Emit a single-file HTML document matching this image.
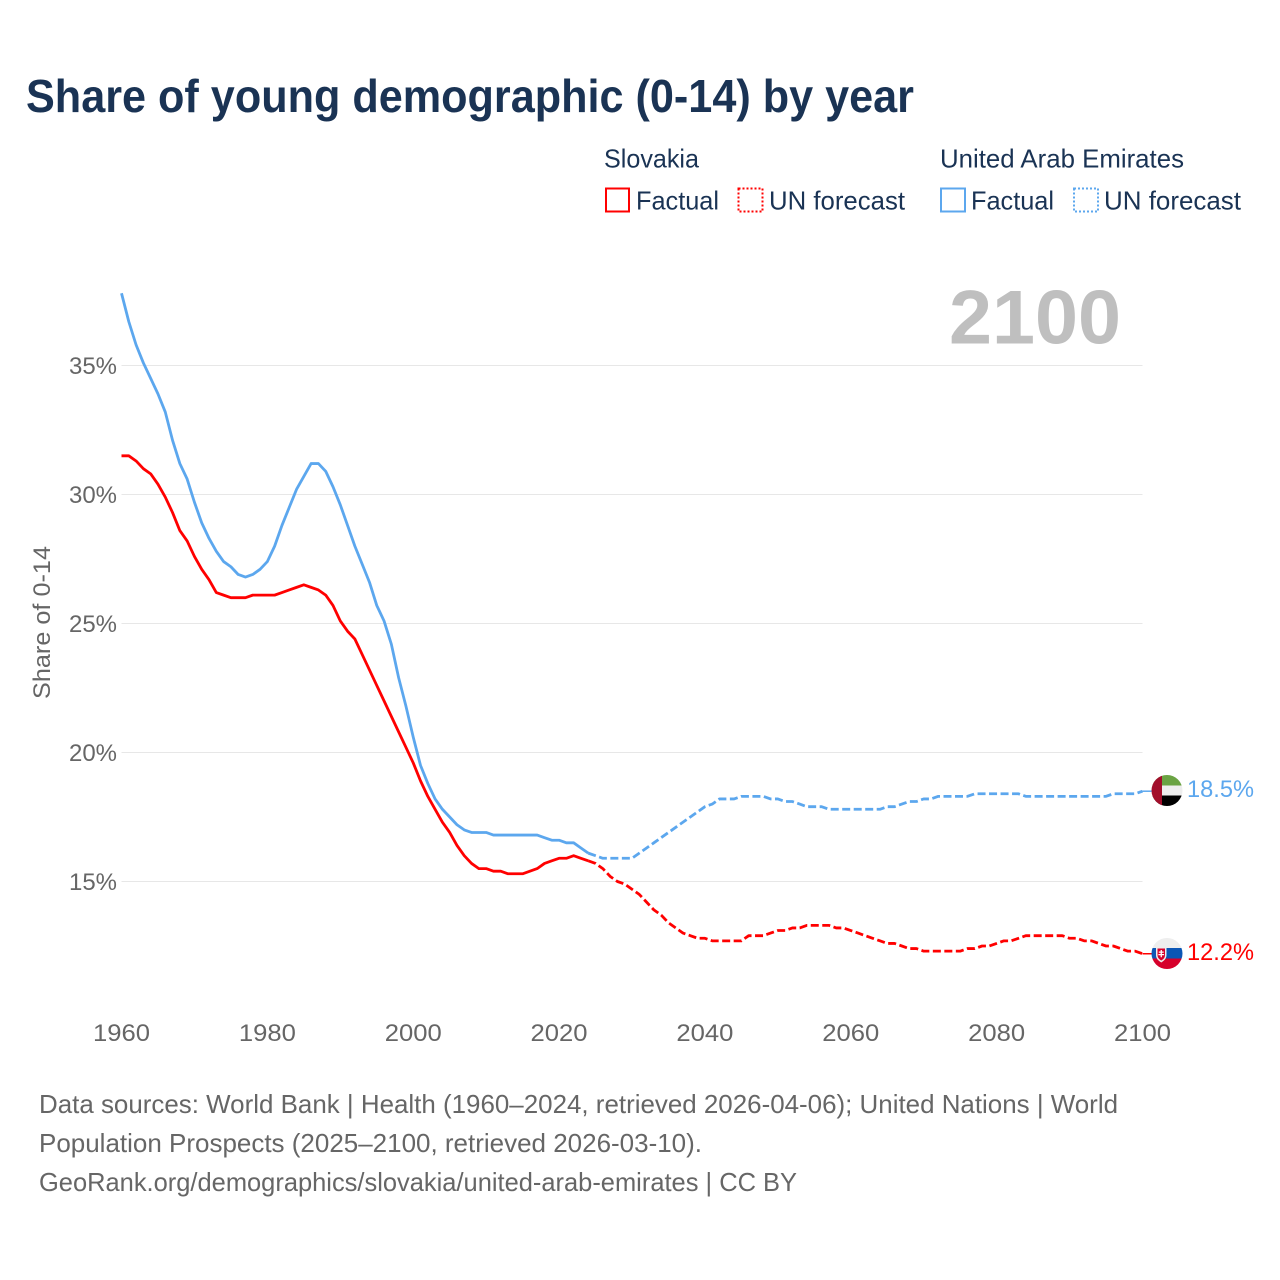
<!DOCTYPE html>
<html lang="en">
<head>
<meta charset="utf-8">
<title>Share of young demographic (0-14) by year</title>
<style>
html,body{margin:0;padding:0;background:#fff;width:1280px;height:1280px;overflow:hidden}
svg{display:block}
text{font-family:"Liberation Sans",sans-serif}
</style>
</head>
<body>
<svg id="chart" width="1280" height="1280" viewBox="0 0 1280 1280" xmlns="http://www.w3.org/2000/svg">
  <defs>
    <clipPath id="clip-uae"><circle cx="1167" cy="790.5" r="15.5"/></clipPath>
    <clipPath id="clip-sk"><circle cx="1167" cy="953.5" r="15.5"/></clipPath>
  </defs>
  <text x="26" y="112" font-size="46" font-weight="700" fill="#1a3354" textLength="888" lengthAdjust="spacingAndGlyphs">Share of young demographic (0-14) by year</text>

  <g font-size="26" fill="#1a3354">
    <text x="604" y="167.500" textLength="95" lengthAdjust="spacingAndGlyphs">Slovakia</text>
    <text x="940" y="167.500" textLength="244" lengthAdjust="spacingAndGlyphs">United Arab Emirates</text>
    <rect x="606" y="188.500" width="23" height="23" fill="none" stroke="#ff0000" stroke-width="2"/>
    <text x="636" y="209.500" textLength="83" lengthAdjust="spacingAndGlyphs">Factual</text>
    <rect x="738.500" y="188.500" width="24" height="23" fill="none" stroke="#ff0000" stroke-width="2" stroke-dasharray="2 2"/>
    <text x="769" y="209.500" textLength="136" lengthAdjust="spacingAndGlyphs">UN forecast</text>
    <rect x="941" y="188.500" width="24" height="23" fill="none" stroke="#5ca7ee" stroke-width="2"/>
    <text x="971" y="209.500" textLength="83" lengthAdjust="spacingAndGlyphs">Factual</text>
    <rect x="1074" y="188.500" width="24" height="23" fill="none" stroke="#5ca7ee" stroke-width="2" stroke-dasharray="2 2"/>
    <text x="1104" y="209.500" textLength="137" lengthAdjust="spacingAndGlyphs">UN forecast</text>
  </g>

  <g id="grid"></g>
  <g id="yticks"></g>
  <g id="xticks"></g>
  <text transform="translate(50,622.500) rotate(-90)" text-anchor="middle" font-size="24" fill="#666666" textLength="153" lengthAdjust="spacingAndGlyphs">Share of 0-14</text>
  <text x="949" y="343.500" font-size="76" font-weight="700" fill="#bfbfbf" textLength="172" lengthAdjust="spacingAndGlyphs">2100</text>

  <g id="series"></g>

  <g clip-path="url(#clip-uae)">
    <rect x="1150" y="774" width="34" height="11.500" fill="#6aa343"/>
    <rect x="1150" y="785.500" width="34" height="10" fill="#eeeeee"/>
    <rect x="1150" y="795.500" width="34" height="12" fill="#000000"/>
    <rect x="1150" y="774" width="12" height="34" fill="#a20f2b"/>
  </g>
  <g clip-path="url(#clip-sk)">
    <rect x="1150" y="937" width="34" height="11" fill="#eeeeee"/>
    <rect x="1150" y="948" width="34" height="10.500" fill="#0b56b5"/>
    <rect x="1150" y="958.500" width="34" height="12" fill="#d6002b"/>
    <path d="M1156 947h10.500v8c0 4-3 6-5.250 7.500c-2.250-1.500-5.250-3.500-5.250-7.500z" fill="#eeeeee"/>
    <path d="M1157.500 948.500h7.500v6.500c0 3-2 4.500-3.750 5.500c-1.750-1-3.750-2.500-3.750-5.500z" fill="#d6002b"/>
    <path d="M1160.600 950h1.300v1.500h1.800v1.200h-1.800v1.300h2.200v1.200h-2.200v2h-1.300v-2h-2.200v-1.200h2.200v-1.300h-1.800v-1.200h1.800z" fill="#ffffff"/>
  </g>

  <text x="1187" y="797" font-size="24.500" fill="#5ca7ee" textLength="67" lengthAdjust="spacingAndGlyphs">18.5%</text>
  <text x="1187" y="960" font-size="24.500" fill="#ff0000" textLength="67" lengthAdjust="spacingAndGlyphs">12.2%</text>

  <g font-size="26" fill="#666666">
    <text x="39" y="1113" textLength="1079" lengthAdjust="spacingAndGlyphs">Data sources: World Bank | Health (1960–2024, retrieved 2026-04-06); United Nations | World</text>
    <text x="39" y="1152" textLength="663" lengthAdjust="spacingAndGlyphs">Population Prospects (2025–2100, retrieved 2026-03-10).</text>
    <text x="39" y="1191" textLength="758" lengthAdjust="spacingAndGlyphs">GeoRank.org/demographics/slovakia/united-arab-emirates | CC BY</text>
  </g>
</svg>

<script>
const factualStartYear = 1960;
const forecastStartYear = 2025;
const xTickYears = ["1960","1980","2000","2020","2040","2060","2080","2100"];
const yTickValues = [15,20,25,30,35];
const uaeFactual = [
  37.8,36.7,35.8,35.1,34.5,33.9,33.2,32.1,31.2,30.6,
  29.7,28.9,28.3,27.8,27.4,27.2,26.9,26.8,26.9,27.1,
  27.4,28.0,28.8,29.5,30.2,30.7,31.2,31.2,30.9,30.3,
  29.6,28.8,28.0,27.3,26.6,25.7,25.1,24.2,22.9,21.8,
  20.6,19.5,18.8,18.2,17.8,17.5,17.2,17.0,16.9,16.9,
  16.9,16.8,16.8,16.8,16.8,16.8,16.8,16.8,16.7,16.6,
  16.6,16.5,16.5,16.3,16.1
];
const uaeForecast = [
  16.0,15.9,15.9,15.9,15.9,
  15.9,16.1,16.3,16.5,16.7,16.9,17.1,17.3,17.5,17.7,
  17.9,18.0,18.2,18.2,18.2,18.3,18.3,18.3,18.3,18.2,
  18.2,18.1,18.1,18.0,17.9,17.9,17.9,17.8,17.8,17.8,
  17.8,17.8,17.8,17.8,17.8,17.9,17.9,18.0,18.1,18.1,
  18.2,18.2,18.3,18.3,18.3,18.3,18.3,18.4,18.4,18.4,
  18.4,18.4,18.4,18.4,18.3,18.3,18.3,18.3,18.3,18.3,
  18.3,18.3,18.3,18.3,18.3,18.3,18.4,18.4,18.4,18.4,
  18.5
];
const slovakiaFactual = [
  31.5,31.5,31.3,31.0,30.8,30.4,29.9,29.3,28.6,28.2,
  27.6,27.1,26.7,26.2,26.1,26.0,26.0,26.0,26.1,26.1,
  26.1,26.1,26.2,26.3,26.4,26.5,26.4,26.3,26.1,25.7,
  25.1,24.7,24.4,23.8,23.2,22.6,22.0,21.4,20.8,20.2,
  19.6,18.9,18.3,17.8,17.3,16.9,16.4,16.0,15.7,15.5,
  15.5,15.4,15.4,15.3,15.3,15.3,15.4,15.5,15.7,15.8,
  15.9,15.9,16.0,15.9,15.8
];
const slovakiaForecast = [
  15.7,15.5,15.2,15.0,14.9,
  14.7,14.5,14.2,13.9,13.7,13.4,13.2,13.0,12.9,12.8,
  12.8,12.7,12.7,12.7,12.7,12.7,12.9,12.9,12.9,13.0,
  13.1,13.1,13.2,13.2,13.3,13.3,13.3,13.3,13.2,13.2,
  13.1,13.0,12.9,12.8,12.7,12.6,12.6,12.5,12.4,12.4,
  12.3,12.3,12.3,12.3,12.3,12.3,12.4,12.4,12.5,12.5,
  12.6,12.7,12.7,12.8,12.9,12.9,12.9,12.9,12.9,12.9,
  12.8,12.8,12.7,12.7,12.6,12.5,12.5,12.4,12.3,12.3,
  12.2
];

const NS = 'http://www.w3.org/2000/svg';
function xScale(year){ return 121.5 + (year - 1960) * (1021 / 140); }
function yScale(v){ return 881.5 - (v - 15) * 25.8; }
function linePath(values, startYear, prefix){
  let d = prefix || '';
  values.forEach(function(v, i){
    d += (d ? 'L' : 'M') + xScale(startYear + i).toFixed(2) + ' ' + yScale(v).toFixed(2);
  });
  return d;
}
function makeLine(values, startYear, color, dashed, name, prefix){
  const p = document.createElementNS(NS, 'path');
  p.setAttribute('d', linePath(values, startYear, prefix));
  p.setAttribute('fill', 'none');
  p.setAttribute('stroke', color);
  p.setAttribute('stroke-width', '2.8');
  p.setAttribute('stroke-linejoin', 'round');
  if (dashed) p.setAttribute('stroke-dasharray', '8 3.5');
  
  
  document.getElementById('series').appendChild(p);
}
function makeLeader(value, color, name){
  const l = document.createElementNS(NS, 'line');
  l.setAttribute('x1', xScale(2100));
  l.setAttribute('x2', 1153);
  l.setAttribute('y1', yScale(value));
  l.setAttribute('y2', yScale(value));
  l.setAttribute('stroke', color);
  l.setAttribute('stroke-width', '1.5');
  
  
  document.getElementById('series').appendChild(l);
}

yTickValues.forEach(function(v){
  const g = document.createElementNS(NS, 'line');
  g.setAttribute('x1', xScale(1960));
  g.setAttribute('x2', xScale(2100));
  g.setAttribute('y1', yScale(v));
  g.setAttribute('y2', yScale(v));
  g.setAttribute('stroke', '#e7e7e7');
  g.setAttribute('stroke-width', '1');
  
  
  document.getElementById('grid').appendChild(g);

  const t = document.createElementNS(NS, 'text');
  t.setAttribute('x', 117);
  t.setAttribute('y', yScale(v) + 8.5);
  t.setAttribute('text-anchor', 'end');
  t.setAttribute('font-size', '24');
  t.setAttribute('fill', '#666666');
  t.setAttribute('textLength', '48');
  t.setAttribute('lengthAdjust', 'spacingAndGlyphs');
  
  
  t.textContent = v + '%';
  document.getElementById('yticks').appendChild(t);
});

xTickYears.forEach(function(y){
  const t = document.createElementNS(NS, 'text');
  t.setAttribute('x', xScale(Number(y)));
  t.setAttribute('y', 1041);
  t.setAttribute('text-anchor', 'middle');
  t.setAttribute('font-size', '24');
  t.setAttribute('fill', '#666666');
  t.setAttribute('textLength', '57');
  t.setAttribute('lengthAdjust', 'spacingAndGlyphs');
  
  
  t.textContent = y;
  document.getElementById('xticks').appendChild(t);
});

const lastFactualYear = factualStartYear + uaeFactual.length - 1;
makeLine(uaeFactual, factualStartYear, '#5ca7ee', false, 'uae-factual-line');
makeLine(uaeForecast, forecastStartYear, '#5ca7ee', true, 'uae-forecast-line',
  'M' + xScale(lastFactualYear) + ' ' + yScale(uaeFactual[uaeFactual.length - 1]));
makeLine(slovakiaFactual, factualStartYear, '#ff0000', false, 'slovakia-factual-line');
makeLine(slovakiaForecast, forecastStartYear, '#ff0000', true, 'slovakia-forecast-line',
  'M' + xScale(lastFactualYear) + ' ' + yScale(slovakiaFactual[slovakiaFactual.length - 1]));
makeLeader(uaeForecast[uaeForecast.length - 1], '#5ca7ee', 'uae-flag-leader');
makeLeader(slovakiaForecast[slovakiaForecast.length - 1], '#ff0000', 'slovakia-flag-leader');
</script>
</body>
</html>
